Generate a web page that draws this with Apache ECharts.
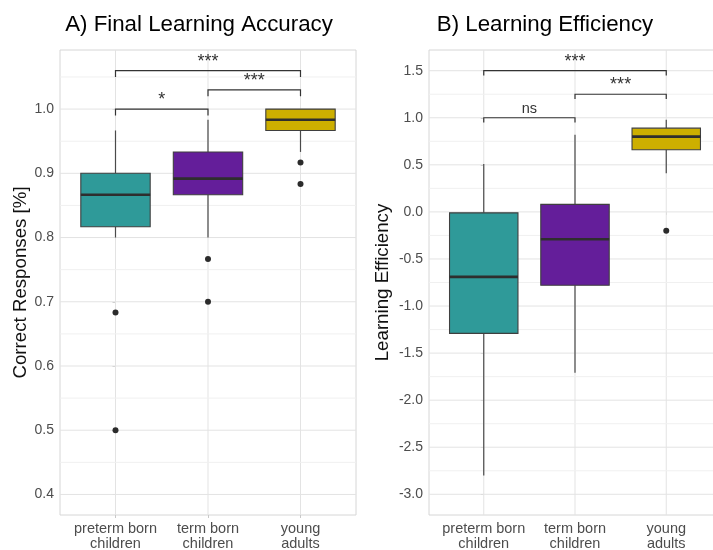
<!DOCTYPE html>
<html>
<head>
<meta charset="utf-8">
<script src="https://cdn.jsdelivr.net/npm/echarts@6/dist/echarts.min.js"></script>
<style>
  html, body { margin: 0; padding: 0; background: #fff; overflow: hidden; }
  /* the right panel runs a little past the window edge */
  #chart { width: 730px; height: 550px; }
</style>
</head>
<body>
<div id="chart"></div>
<script>
// Groups shown on both panels
const groups = ['preterm born\nchildren', 'term born\nchildren', 'young\nadults'];
const groupColors = ['#2f9a99', '#641e9a', '#cdaf00'];

// Panel A: final learning accuracy, five-number summaries [min, q1, median, q3, max]
const accuracyBoxes = [
  [0.8000, 0.8167, 0.8667, 0.9000, 0.9667],
  [0.8000, 0.8667, 0.8917, 0.9333, 0.9833],
  [0.9333, 0.9667, 0.9833, 1.0000, 1.0000]
];
// outliers as [group index, value]
const accuracyOutliers = [[0, 0.6833], [0, 0.5000], [1, 0.7667], [1, 0.7000], [2, 0.9167], [2, 0.8833]];
// significance brackets: [from group, to group, height, label]
const accuracyBrackets = [[0, 1, 1.00, '*'], [1, 2, 1.03, '***'], [0, 2, 1.06, '***']];
const accuracyTicks = [0.4, 0.5, 0.6, 0.7, 0.8, 0.9, 1.0];
const accuracyMinor = [0.45, 0.55, 0.65, 0.75, 0.85, 0.95, 1.05];

// Panel B: learning efficiency
const efficiencyBoxes = [
  [-2.80, -1.29, -0.69, -0.01, 0.51],
  [-1.71, -0.78, -0.29, 0.08, 0.82],
  [0.41, 0.66, 0.80, 0.89, 0.98]
];
const efficiencyOutliers = [[2, -0.20]];
const efficiencyBrackets = [[0, 1, 1.00, 'ns'], [1, 2, 1.25, '***'], [0, 2, 1.50, '***']];
const efficiencyTicks = [-3.0, -2.5, -2.0, -1.5, -1.0, -0.5, 0.0, 0.5, 1.0, 1.5];
const efficiencyMinor = [-2.75, -2.25, -1.75, -1.25, -0.75, -0.25, 0.25, 0.75, 1.25];

const FONT = '"Liberation Sans", Arial, sans-serif';

function boxSeries(idx, boxes) {
  return {
    type: 'custom', xAxisIndex: idx, yAxisIndex: idx, z: 5,
    data: boxes.map((b, i) => [i].concat(b)),
    renderItem: function (params, api) {
      const x = api.value(0);
      const lo = api.coord([x, api.value(1)]);
      const q1 = api.coord([x, api.value(2)]);
      const md = api.coord([x, api.value(3)]);
      const q3 = api.coord([x, api.value(4)]);
      const hi = api.coord([x, api.value(5)]);
      const w = api.size([0.75, 0])[0];
      const cx = q1[0];
      const wStyle = { stroke: '#4a4a4a', lineWidth: 1.2 };
      return {
        type: 'group',
        children: [
          { type: 'line', shape: { x1: cx, y1: lo[1], x2: cx, y2: q1[1] }, style: wStyle },
          { type: 'line', shape: { x1: cx, y1: q3[1], x2: cx, y2: hi[1] }, style: wStyle },
          { type: 'rect', shape: { x: cx - w / 2, y: q3[1], width: w, height: q1[1] - q3[1] },
            style: { fill: groupColors[x], stroke: '#3f3f3f', lineWidth: 1.1 } },
          { type: 'line', shape: { x1: cx - w / 2, y1: md[1], x2: cx + w / 2, y2: md[1] },
            style: { stroke: '#2e2e2e', lineWidth: 2.6 } }
        ]
      };
    }
  };
}

function outlierSeries(idx, pts) {
  return {
    type: 'scatter', xAxisIndex: idx, yAxisIndex: idx, z: 6,
    data: pts, symbolSize: 6,
    itemStyle: { color: '#2b2b2b', opacity: 1 }
  };
}

function bracketSeries(idx, brackets, drop) {
  return {
    type: 'custom', xAxisIndex: idx, yAxisIndex: idx, z: 7,
    data: brackets,
    renderItem: function (params, api) {
      const a = api.coord([api.value(0), api.value(2)]);
      const b = api.coord([api.value(1), api.value(2)]);
      const aLow = api.coord([api.value(0), api.value(2) - drop]);
      const label = brackets[params.dataIndex][3];
      const isNs = label === 'ns';
      return {
        type: 'group',
        children: [
          { type: 'polyline',
            shape: { points: [[a[0], aLow[1]], [a[0], a[1]], [b[0], b[1]], [b[0], aLow[1]]] },
            style: { stroke: '#333333', lineWidth: 1.2, fill: null } },
          { type: 'text',
            style: { text: label, x: (a[0] + b[0]) / 2, y: a[1] - (isNs ? 1 : 0),
              align: 'center', verticalAlign: 'bottom',
              font: (isNs ? '14.5px ' : '18px ') + FONT, fill: '#333333' } }
        ]
      };
    }
  };
}

// light panel grid: vertical lines at the groups, major and minor horizontals
function gridLineSeries(idx, majors, minors) {
  const items = [];
  [0, 1, 2].forEach(v => items.push(['v', v]));
  majors.forEach(v => items.push(['M', v]));
  minors.forEach(v => items.push(['m', v]));
  return {
    type: 'custom', xAxisIndex: idx, yAxisIndex: idx, z: 1, silent: true,
    data: items.map((it, i) => [i]),
    renderItem: function (params, api) {
      const it = items[params.dataIndex];
      const cs = params.coordSys;
      if (it[0] === 'v') {
        const p = api.coord([it[1], 0]);
        return { type: 'line', shape: { x1: p[0], y1: cs.y, x2: p[0], y2: cs.y + cs.height },
          style: { stroke: '#e3e3e3', lineWidth: 1 } };
      }
      const p = api.coord([0, it[1]]);
      return { type: 'line', shape: { x1: cs.x, y1: p[1], x2: cs.x + cs.width, y2: p[1] },
        style: { stroke: it[0] === 'M' ? '#e3e3e3' : '#f0f0f0', lineWidth: 1 } };
    }
  };
}

function xAxisFor(idx) {
  return {
    type: 'value', gridIndex: idx, min: -0.6, max: 2.6,
    splitLine: { show: false },
    axisLine: { show: false },
    axisTick: { show: true, customValues: [0, 1, 2], length: 3, lineStyle: { color: '#c8c8c8' } },
    axisLabel: {
      customValues: [0, 1, 2],
      formatter: v => groups[Math.round(v)],
      color: '#4d4d4d', fontSize: 14.5, fontFamily: FONT, lineHeight: 15.5, margin: 6
    }
  };
}

function yAxisFor(idx, min, max, ticks, name, gap) {
  return {
    type: 'value', gridIndex: idx, min: min, max: max,
    name: name, nameLocation: 'middle', nameGap: gap,
    nameTextStyle: { color: '#111', fontSize: 18.7, fontFamily: FONT },
    splitLine: { show: false },
    axisLine: { show: false },
    axisTick: { show: true, customValues: ticks, length: 3, lineStyle: { color: '#c8c8c8' } },
    axisLabel: {
      customValues: ticks,
      formatter: v => v.toFixed(1),
      color: '#4d4d4d', fontSize: 14, fontFamily: FONT, margin: 6
    }
  };
}

const chart = echarts.init(document.getElementById('chart'), null, { renderer: 'canvas' });
chart.setOption({
  backgroundColor: '#ffffff',
  animation: false,
  title: [
    { text: 'A) Final Learning Accuracy', left: 194, top: 9, textAlign: 'center',
      textStyle: { fontSize: 22.3, fontWeight: 'normal', color: '#000', fontFamily: FONT } },
    { text: 'B) Learning Efficiency', left: 540, top: 9, textAlign: 'center',
      textStyle: { fontSize: 22.3, fontWeight: 'normal', color: '#000', fontFamily: FONT } }
  ],
  grid: [
    { left: 60, top: 50, width: 296, height: 465, show: true, borderColor: '#d6d6d6', borderWidth: 1,
      backgroundColor: '#fff', outerBoundsMode: 'none' },
    { left: 429, top: 50, width: 292, height: 465, show: true, borderColor: '#d6d6d6', borderWidth: 1,
      backgroundColor: '#fff', outerBoundsMode: 'none' }
  ],
  xAxis: [xAxisFor(0), xAxisFor(1)],
  yAxis: [
    yAxisFor(0, 0.368, 1.092, accuracyTicks, 'Correct Responses [%]', 30),
    yAxisFor(1, -3.22, 1.72, efficiencyTicks, 'Learning Efficiency', 37)
  ],
  series: [
    gridLineSeries(0, accuracyTicks, accuracyMinor),
    gridLineSeries(1, efficiencyTicks, efficiencyMinor),
    boxSeries(0, accuracyBoxes),
    boxSeries(1, efficiencyBoxes),
    outlierSeries(0, accuracyOutliers),
    outlierSeries(1, efficiencyOutliers),
    bracketSeries(0, accuracyBrackets, 0.01),
    bracketSeries(1, efficiencyBrackets, 0.05)
  ]
});
</script>
</body>
</html>
